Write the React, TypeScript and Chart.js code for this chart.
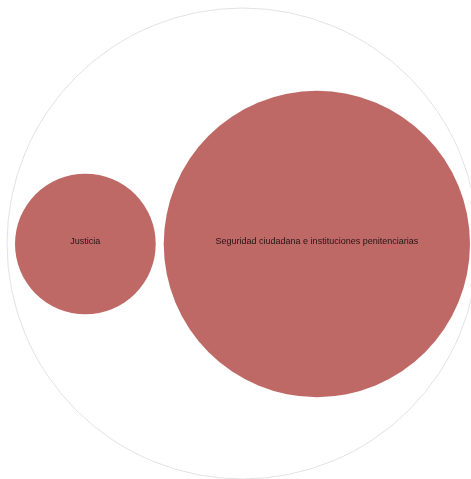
import React, { useEffect, useRef } from 'react';
import { Chart, registerables } from 'chart.js';

Chart.register(...registerables);

// Data
const CATEGORIES = ['Justicia', 'Seguridad ciudadana e instituciones penitenciarias'];
const VALUES = [1.97, 9.33];
const ROOT_LABEL = 'Total';

// Layout / style
const W = 471;
const H = 479;
const PACK_CX = 242.5;
const PACK_CY = 243.5;
const PACK_R = 235.5;
const PAD = 8;
const FILL = '#bf6967';
const OUTER_BORDER = '#e2e2e2';

// Simple side-by-side circle pack for the children, computed from values
function packChildren(values: number[]) {
  const roots = values.map((v) => Math.sqrt(v));
  const sumRoots = roots.reduce((a, b) => a + b, 0);
  const avail = 2 * PACK_R - 2 * PAD - PAD * (values.length - 1);
  const k = avail / (2 * sumRoots);
  let x = PACK_CX - PACK_R + PAD;
  return roots.map((s) => {
    const r = s * k;
    const c = { x: x + r, y: PACK_CY + 0.5, r };
    x += 2 * r + PAD;
    return c;
  });
}

export default function App() {
  const ref = useRef<HTMLCanvasElement | null>(null);

  useEffect(() => {
    if (!ref.current) return;
    const children = packChildren(VALUES);

    const labelPlugin = {
      id: 'packLabels',
      afterDatasetsDraw(chart: any) {
        const meta = chart.getDatasetMeta(0);
        const c = chart.ctx;
        c.save();
        c.font = '9px "Liberation Sans", Arial, sans-serif';
        c.fillStyle = '#241414';
        c.textAlign = 'center';
        c.textBaseline = 'middle';
        meta.data.forEach((el: any, i: number) => {
          c.fillText(CATEGORIES[i], el.x, el.y - 2.5);
        });
        c.restore();
      },
    };

    const chart = new Chart(ref.current, {
      type: 'bubble',
      data: {
        datasets: [
          {
            label: 'children',
            data: children.map((c) => ({ x: c.x, y: c.y, r: c.r })),
            backgroundColor: FILL,
            borderWidth: 0,
            hoverRadius: 0,
            order: 1,
            clip: false,
          } as any,
          {
            label: ROOT_LABEL,
            data: [{ x: PACK_CX, y: PACK_CY, r: PACK_R }],
            backgroundColor: '#ffffff',
            borderColor: OUTER_BORDER,
            borderWidth: 1,
            hoverRadius: 0,
            order: 2,
            clip: false,
          } as any,
        ],
      },
      options: {
        animation: false,
        responsive: false,
        events: [],
        layout: { padding: 0, autoPadding: false },
        plugins: {
          legend: { display: false },
          tooltip: { enabled: false },
        },
        scales: {
          x: { type: 'linear', min: 0, max: W, display: false },
          y: { type: 'linear', min: 0, max: H, reverse: true, display: false },
        },
      },
      plugins: [labelPlugin],
    });
    return () => chart.destroy();
  }, []);

  return (
    <div style={{ position: 'fixed', left: 0, top: 0, width: W, height: H, background: '#fff' }}>
      <canvas ref={ref} width={W} height={H} />
    </div>
  );
}
